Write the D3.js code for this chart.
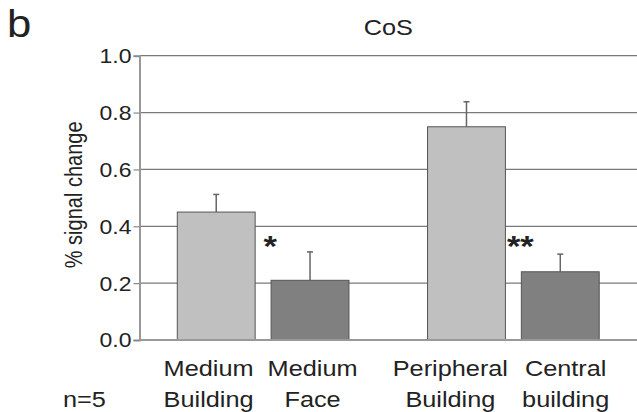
<!DOCTYPE html>
<html>
<head>
<meta charset="utf-8">
<script src="https://cdn.jsdelivr.net/npm/d3@7"></script>
<style>
body { margin: 0; background: #fff; }
text { font-family: "Liberation Sans", Arial, sans-serif; fill: #222; }
</style>
</head>
<body>
<div id="viz"></div>
<script>
// values
var groups = ["medium", "eccentricity"];
var conditions = ["Medium Building", "Medium Face", "Peripheral Building", "Central building"];
var conditionGroup = ["medium", "medium", "eccentricity", "eccentricity"];
var labelLines = [["Medium", "Building"], ["Medium", "Face"], ["Peripheral", "Building"], ["Central", "building"]];
var signal = [0.45, 0.21, 0.75, 0.24];
var sem = [0.062, 0.10, 0.088, 0.062];
var stars = ["*", "**"];
var yTicks = [0, 0.2, 0.4, 0.6, 0.8, 1.0];

var W = 637, H = 412;
var stretch = 1.15; // the figure is a bit wider than tall

var svg = d3.select("#viz")
	.append("svg")
	.attr("width", W)
	.attr("height", H);

var plotL = 139.5, plotR = 637, plotT = 55.7, plotB = 340;

var y = d3.scaleLinear().domain([0, 1]).range([plotB, plotT]);
var xGroup = d3.scaleBand().domain(groups).range([plotL, plotR])
	.paddingInner(0.314).paddingOuter(0.151);
var xInner = d3.scaleBand().domain([0, 1]).range([0, xGroup.bandwidth()])
	.paddingInner(0.17).paddingOuter(0);

var data = conditions.map(function(c, i){
	var within = conditionGroup.slice(0, i).filter(function(g){ return g == conditionGroup[i]; }).length;
	return {name: c, group: conditionGroup[i], k: within, v: signal[i], e: sem[i], lines: labelLines[i]};
});
function barX(d){ return xGroup(d.group) + xInner(d.k); }
function barMid(d){ return barX(d) + xInner.bandwidth()/2; }

function wideText(sel, x, yy){
	sel.attr("transform", "translate(" + x + "," + yy + ") scale(" + stretch + ",1)");
}

// gridlines
svg.append("g").selectAll("line.grid")
	.data(yTicks.filter(function(t){ return t > 0; }))
	.enter().append("line")
	.attr("x1", plotL).attr("x2", plotR)
	.attr("y1", function(d){ return y(d); })
	.attr("y2", function(d){ return y(d); })
	.attr("stroke", "#7a7a7a").attr("stroke-width", 1.2);

// y axis
var yAxis = svg.append("g")
	.attr("transform", "translate(" + plotL + ",0)")
	.call(d3.axisLeft(y).tickValues(yTicks).tickSize(6).tickFormat(d3.format(".1f")));
yAxis.select(".domain").attr("stroke", "#999").attr("stroke-width", 2);
yAxis.selectAll(".tick line").attr("stroke", "#888").attr("stroke-width", 1.2);
yAxis.selectAll(".tick text").each(function(d){
	d3.select(this)
		.attr("x", null).attr("dy", null)
		.attr("text-anchor", "end")
		.attr("font-size", 20)
		.attr("fill", "#222")
		.attr("dominant-baseline", "central");
	wideText(d3.select(this), -8, 0);
});

// error bars
var eb = svg.append("g").selectAll("g.err").data(data).enter().append("g");
eb.append("line")
	.attr("x1", barMid).attr("x2", barMid)
	.attr("y1", function(d){ return y(d.v); })
	.attr("y2", function(d){ return y(d.v + d.e); })
	.attr("stroke", "#666").attr("stroke-width", 1.5);
eb.append("line")
	.attr("x1", function(d){ return barMid(d) - 3; })
	.attr("x2", function(d){ return barMid(d) + 3; })
	.attr("y1", function(d){ return y(d.v + d.e); })
	.attr("y2", function(d){ return y(d.v + d.e); })
	.attr("stroke", "#666").attr("stroke-width", 1.5);

// bars
svg.append("g").selectAll("rect")
	.data(data).enter().append("rect")
	.attr("x", barX)
	.attr("y", function(d){ return y(d.v); })
	.attr("width", xInner.bandwidth())
	.attr("height", function(d){ return y(0) - y(d.v); })
	.attr("fill", function(d){ return d.k == 0 ? "#c0c0c0" : "#808080"; })
	.attr("stroke", "#555").attr("stroke-width", 1);

// baseline
svg.append("line")
	.attr("x1", plotL).attr("x2", plotR)
	.attr("y1", y(0)).attr("y2", y(0))
	.attr("stroke", "#999").attr("stroke-width", 2);

// significance stars between the bars of each pair
svg.append("g").selectAll("text.star")
	.data(groups).enter().append("text")
	.attr("text-anchor", "middle")
	.attr("font-size", 30)
	.attr("font-weight", "bold")
	.attr("fill", "#111")
	.text(function(d, i){ return stars[i]; })
	.each(function(d){
		var gapMid = xGroup(d) + xInner(1) - (xInner.step() - xInner.bandwidth())/2;
		wideText(d3.select(this), gapMid + 7, y(0.35) + 16);
	});

// category labels
var labs = svg.append("g").selectAll("text.cat")
	.data(data).enter().append("text")
	.attr("text-anchor", "middle")
	.attr("font-size", 22);
labs.selectAll("tspan")
	.data(function(d){ return d.lines; })
	.enter().append("tspan")
	.attr("x", 0)
	.attr("y", function(d, i){ return i * 31.5; })
	.text(function(d){ return d; });

// centre under bars, then push apart labels that run into each other
var pos = data.map(barMid);
var halfW = [];
labs.each(function(d, i){ halfW[i] = this.getBBox().width * stretch / 2; });
for (var i = 1; i < pos.length; i++) {
	var gap = (pos[i] - halfW[i]) - (pos[i-1] + halfW[i-1]);
	if (gap < 14) {
		var need = 14 - gap;
		pos[i-1] -= need * 0.75;
		pos[i] += need * 0.25;
	}
}
labs.each(function(d, i){ wideText(d3.select(this), pos[i], 376); });

// title, panel letter, n, y label
wideText(svg.append("text").attr("text-anchor", "middle").attr("font-size", 22).text("CoS"),
	(plotL + plotR)/2, 35);
wideText(svg.append("text").attr("font-size", 38).text("b"), 7, 37);
wideText(svg.append("text").attr("font-size", 22).text("n=5"), 63, 407);
svg.append("text")
	.attr("transform", "translate(82," + ((plotT + plotB)/2 - 3) + ") rotate(-90) scale(1," + stretch + ")")
	.attr("text-anchor", "middle")
	.attr("font-size", 20)
	.text("% signal change");
</script>
</body>
</html>
